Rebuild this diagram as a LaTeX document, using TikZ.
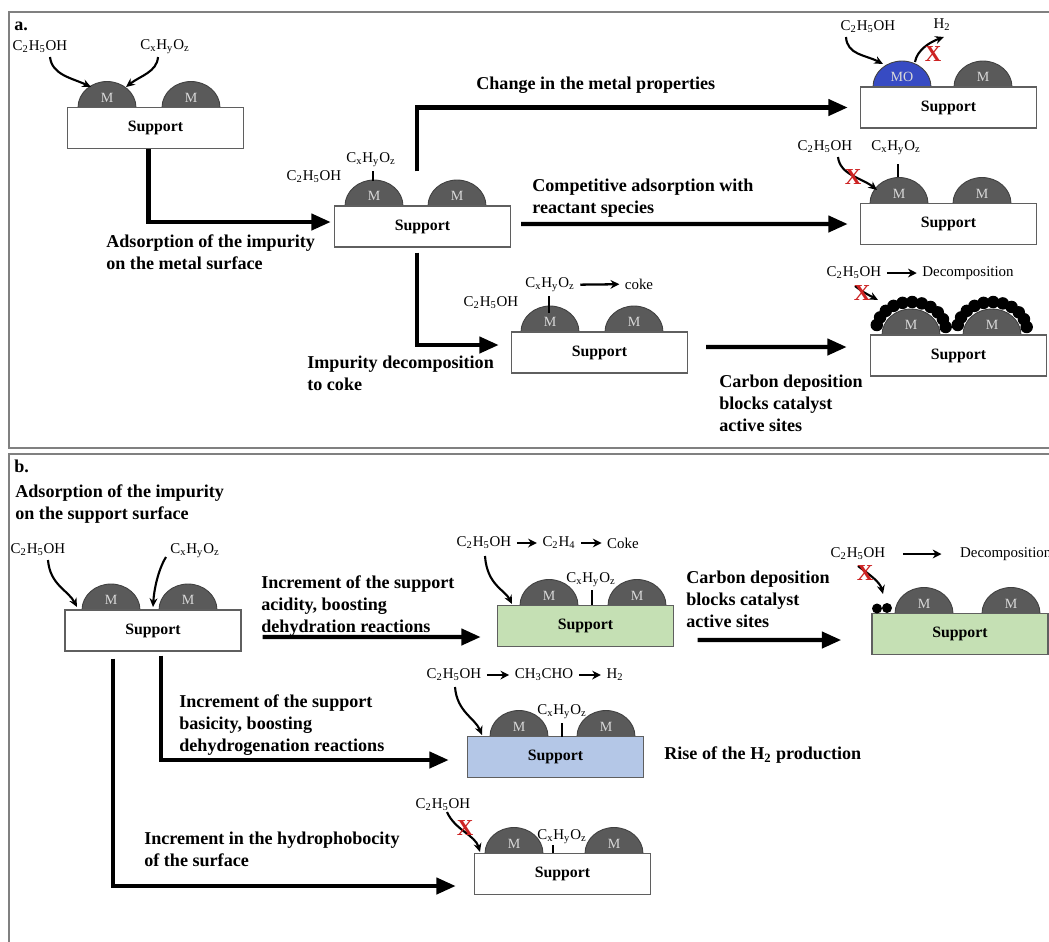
\documentclass[tikz,border=0pt]{standalone}
\usepackage{fontspec}
\setmainfont{Liberation Serif}
\usetikzlibrary{arrows.meta}
\definecolor{domegray}{RGB}{90,90,90}
\definecolor{boxgray}{RGB}{95,95,95}
\definecolor{moblue}{RGB}{55,75,195}
\definecolor{supgreen}{RGB}{197,224,180}
\definecolor{supblue}{RGB}{180,199,231}
\definecolor{framegray}{RGB}{128,128,128}
\definecolor{xred}{RGB}{205,35,35}
\newcommand\etoh{C\textsubscript{2}H\textsubscript{5}OH}
\newcommand\impur{C\textsubscript{x}H\textsubscript{y}O\textsubscript{z}}
\newcommand\hyd{H\textsubscript{2}}
\newcommand\mdome[4]{%
  \filldraw[fill=#4, draw=black!75, line width=0.5pt] (#1-29,#2) .. controls (#1-29,#2-14.4) and (#1-16,#2-26) .. (#1,#2-26) .. controls (#1+16,#2-26) and (#1+29,#2-14.4) .. (#1+29,#2) -- cycle;
  \node[mlabel] at (#1,#2-10) {#3};}
\tikzset{
  supbox/.style={draw=boxgray, line width=0.8pt, fill=white, minimum width=3.52cm, minimum height=0.82cm, inner sep=0pt, font=\fontsize{9}{10}\selectfont\bfseries},
  bigarrow/.style={line width=2.5pt, -{Triangle[length=11pt,width=9pt]}},
  curv/.style={line width=1.2pt, -{Stealth[length=5pt,width=4.5pt]}},
  rarr/.style={line width=1.3pt, -{Stealth[length=5pt,width=5pt]}, shorten <=2pt, shorten >=2pt},
  ticky/.style={line width=1.2pt},
  chem/.style={font=\fontsize{8.5}{10}\selectfont, inner sep=1pt},
  lab/.style={font=\fontsize{10.3}{12.5}\selectfont\bfseries, align=left, anchor=west, inner sep=0pt},
  mlabel/.style={font=\fontsize{8}{9}\selectfont, text=black!15, inner sep=0pt},
  redx/.style={text=xred, font=\fontsize{13}{13}\selectfont\bfseries, inner sep=0pt},
  panelframe/.style={draw=framegray, line width=1.2pt},
}
\begin{document}
\begin{tikzpicture}[x=0.02cm,y=-0.02cm]
\useasboundingbox (0,0) rectangle (1049,941);
\fill[white] (0,0) rectangle (1049,941);
% frames
\draw[panelframe] (1070,12) -- (9,12) -- (9,448) -- (1070,448);
\draw[panelframe] (1070,454) -- (9,454) -- (9,960);

% ================= panel a =================
\node[lab] at (14,26) {a.};
% a1
\mdome{107}{107.5}{M}{domegray}
\mdome{191}{107.5}{M}{domegray}
\node[supbox] (a1) at (155.5,128) {Support};
\node[chem] (a1e) at (40,47) {\etoh};
\node[chem] (a1i) at (165,47) {\impur};
\draw[curv] (50,57) .. controls (52,75) and (72,78) .. (91,87);
\draw[curv] (158,57) .. controls (157,72) and (140,76) .. (126,87);

% a2
\mdome{374}{206}{M}{domegray}
\mdome{457}{206}{M}{domegray}
\node[supbox] (a2) at (422.5,226.5) {Support};
\node[chem] (a2e) at (314,177) {\etoh};
\node[chem] (a2i) at (371,160) {\impur};
\draw[ticky] (373,171) -- (373,181);

% a4 (metal oxide)
\mdome{902}{87}{MO}{moblue}
\mdome{983}{87}{M}{domegray}
\node[supbox] (a4) at (948.5,107.5) {Support};
\node[chem] (a4e) at (868,27) {\etoh};
\node[chem] (a4h) at (942,25) {\hyd};
\draw[curv] (846,37) .. controls (847,55) and (866,55) .. (883,64);
\draw[curv] (915,62) .. controls (917,50) and (930,42) .. (944,37);
\node[redx] at (933,54) {X};

% a5 (competitive adsorption)
\mdome{899}{203.5}{M}{domegray}
\mdome{982}{203.5}{M}{domegray}
\node[supbox] (a5) at (948.5,224) {Support};
\node[chem] (a5e) at (825,147) {\etoh};
\node[chem] (a5i) at (896,148) {\impur};
\draw[ticky] (898,164) -- (898,177);
\draw[curv] (838,157) .. controls (840,175) and (862,178) .. (877,190);
\node[redx] at (853,177) {X};

% a3 (coke)
\mdome{550}{332}{M}{domegray}
\mdome{634}{332}{M}{domegray}
\node[supbox] (a3) at (599.5,352.5) {Support};
\node[chem] (a3e) at (491,303) {\etoh};
\node[chem] (a3i) at (550,285) {\impur};
\node[chem] (a3c) at (639,284) {coke};
\draw[rarr] (a3i) -- (a3c);
\draw[ticky] (549,296) -- (549,313);

% a6 (carbon deposition)
\mdome{911}{335}{M}{domegray}
\mdome{992}{335}{M}{domegray}
\foreach \a in {8,24,...,172} {
  \fill ({911+35*cos(\a)},{331-29*sin(\a)}) circle (0.125cm);
  \fill ({992+35*cos(\a)},{331-29*sin(\a)}) circle (0.125cm);
}
\node[supbox] (a6) at (958.5,355.5) {Support};
\node[chem] (a6e) at (854,273) {\etoh};
\node[chem] (a6d) at (968,273) {Decomposition};
\draw[rarr] (a6e) -- (a6d);
\draw[curv] (855,286) .. controls (863,292) .. (878,300);
\node[redx] at (862,293) {X};

% panel a connectors
\draw[bigarrow] ([xshift=-0.14cm]a1.south) |- ([xshift=-0.06cm,yshift=0.09cm]a2.west);
\draw[bigarrow] ([xshift=-0.11cm,yshift=0.68cm]a2.north) |- ([xshift=-0.24cm]a4.west);
\draw[bigarrow] ([xshift=0.2cm,yshift=0.05cm]a2.east) -- ([xshift=-0.24cm]a5.west);
\draw[bigarrow] ([xshift=-0.11cm,yshift=-0.1cm]a2.south) |- ([xshift=-0.24cm,yshift=0.15cm]a3.west);
\draw[bigarrow] ([xshift=0.36cm,yshift=0.11cm]a3.east) -- ([xshift=-0.46cm,yshift=0.17cm]a6.west);

% panel a labels
\node[lab] at (106,252) {Adsorption of the impurity\\on the metal surface};
\node[lab] at (476,85) {Change in the metal properties};
\node[lab] at (532,198) {Competitive adsorption with\\reactant species};
\node[lab] at (307,373) {Impurity decomposition\\to coke};
\node[lab] at (719,403) {Carbon deposition\\blocks catalyst\\active sites};

% ================= panel b =================
\node[lab] at (14,466) {b.};
\node[lab] at (15,504) {Adsorption of the impurity\\on the support surface};

% b1
\mdome{111}{610}{M}{domegray}
\mdome{188}{610}{M}{domegray}
\node[supbox] (b1) at (153,630.5) {Support};
\node[chem] (b1e) at (38,550) {\etoh};
\node[chem] (b1i) at (195,551) {\impur};
\draw[curv] (48,560) .. controls (50,585) and (68,590) .. (77,607);
\draw[curv] (166,557) .. controls (158,570) and (154,590) .. (153,607);

% b2 (acidity)
\mdome{549}{605.5}{M}{domegray}
\mdome{637}{605.5}{M}{domegray}
\node[supbox, fill=supgreen] (b2) at (585.5,626) {Support};
\node[chem] (b2e) at (484,543) {\etoh};
\node[chem] (b2c) at (559,543) {C\textsubscript{2}H\textsubscript{4}};
\node[chem] (b2k) at (623,543) {Coke};
\draw[rarr] (b2e) -- (b2c);
\draw[rarr] (b2c) -- (b2k);
\node[chem] (b2i) at (591,580) {\impur};
\draw[ticky] (592,590) -- (592,605);
\draw[curv] (485,556) .. controls (487,585) and (505,590) .. (512,604);

% b3 (carbon deposition)
\mdome{924}{613.5}{M}{domegray}
\mdome{1011}{613.5}{M}{domegray}
\node[supbox, fill=supgreen] (b3) at (960,634) {Support};
\fill (877,608.5) circle (0.1cm);
\fill (887,608) circle (0.1cm);
\node[chem] (b3e) at (858,554) {\etoh};
\node[chem, anchor=west] (b3d) at (958,554) {Decomposition};
\draw[rarr] ([xshift=0.24cm]b3e.east) -- ([xshift=-0.26cm]b3d.west);
\draw[curv] (858,566) .. controls (870,575) and (880,582) .. (883,594);
\node[redx] at (865,573) {X};

% b4 (basicity)
\mdome{519}{736.5}{M}{domegray}
\mdome{606}{736.5}{M}{domegray}
\node[supbox, fill=supblue] (b4) at (555.5,757) {Support};
\node[chem] (b4e) at (454,675) {\etoh};
\node[chem] (b4a) at (544,675) {CH\textsubscript{3}CHO};
\node[chem] (b4h) at (615,675) {\hyd};
\draw[rarr] (b4e) -- (b4a);
\draw[rarr] (b4a) -- (b4h);
\node[chem] (b4i) at (562,712) {\impur};
\draw[ticky] (562,723) -- (562,737);
\draw[curv] (455,687) .. controls (457,712) and (475,718) .. (482,735);

% b5 (hydrophobicity)
\mdome{514}{853.5}{M}{domegray}
\mdome{614}{853.5}{M}{domegray}
\node[supbox] (b5) at (562.5,874) {Support};
\node[chem] (b5e) at (443,805) {\etoh};
\node[chem] (b5i) at (562,837) {\impur};
\draw[ticky] (553,845) -- (553,853);
\draw[curv] (447,812) .. controls (455,830) and (475,835) .. (480,852);
\node[redx] at (465,828) {X};

% panel b connectors
\draw[bigarrow] ([xshift=0.42cm,yshift=-0.13cm]b1.east) -- ([xshift=-0.32cm,yshift=-0.22cm]b2.west);
\draw[bigarrow] ([xshift=0.47cm,yshift=-0.28cm]b2.east) -- ([xshift=-0.6cm,yshift=-0.12cm]b3.west);
\draw[bigarrow] ([xshift=0.16cm,yshift=-0.08cm]b1.south) |- ([xshift=-0.36cm,yshift=-0.06cm]b4.west);
\draw[bigarrow] ([xshift=-0.8cm,yshift=-0.14cm]b1.south) |- ([xshift=-0.36cm,yshift=-0.24cm]b5.west);

% panel b labels
\node[lab] at (261,606) {Increment of the support\\acidity, boosting\\dehydration reactions};
\node[lab] at (686,599) {Carbon deposition\\blocks catalyst\\active sites};
\node[lab] at (179,725) {Increment of the support\\basicity, boosting\\dehydrogenation reactions};
\node[lab] at (144,849) {Increment in the hydrophobocity\\of the surface};
\node[lab] at (664,755) {Rise of the \hyd{} production};
\end{tikzpicture}
\end{document}
